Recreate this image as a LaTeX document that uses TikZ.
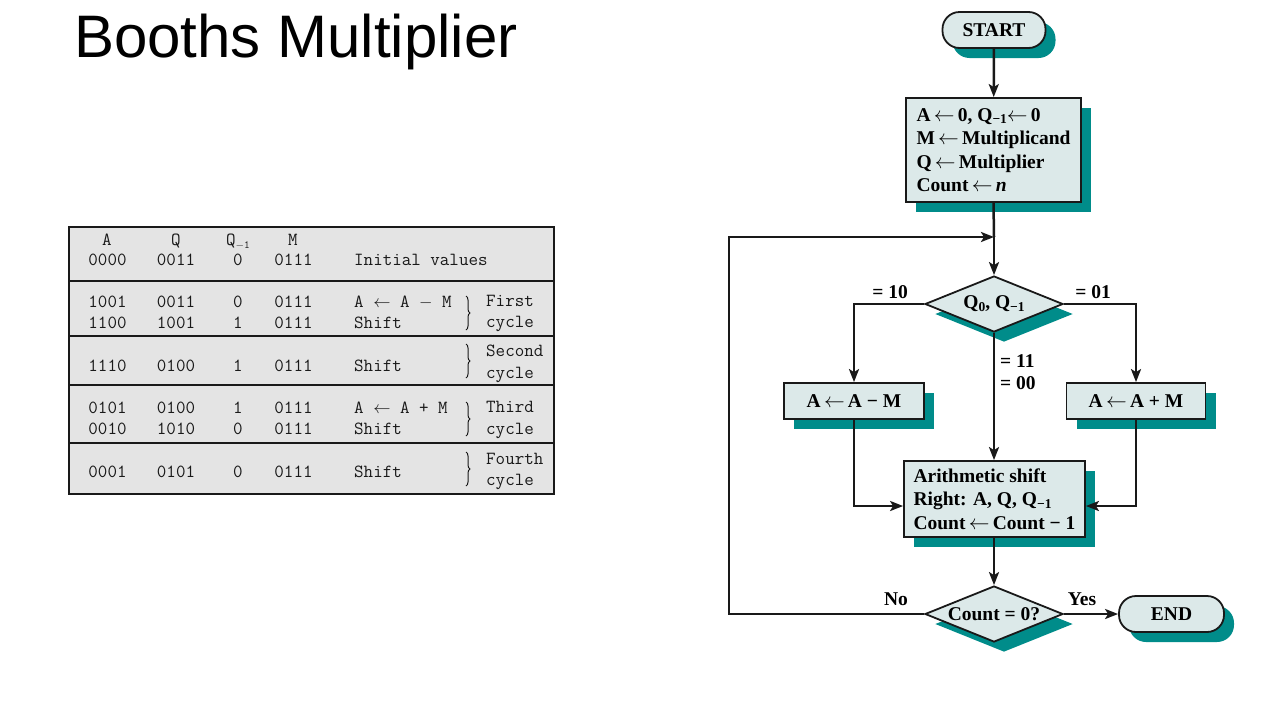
\documentclass[tikz,border=0pt]{standalone}
\usepackage{fontspec}
\setmainfont{Liberation Serif}
\newfontfamily\titlefont{Liberation Sans}
\usetikzlibrary{shapes.geometric,shadows,arrows.meta,decorations.pathreplacing}
\definecolor{boxfill}{RGB}{220,233,233}
\definecolor{shadowteal}{RGB}{0,140,138}
\definecolor{tablegray}{RGB}{228,228,228}
\definecolor{ink}{RGB}{25,25,25}
\newcommand{\mysub}[1]{\raisebox{-0.3ex}{\fontsize{13.5}{14}\selectfont #1}}
\newcommand{\la}{\ensuremath{\leftarrow}}
\tikzset{
  flowfont/.style={font=\bfseries\fontsize{19.5}{23.5}\selectfont},
  shad/.style={general shadow={fill=shadowteal, shadow xshift=10pt, shadow yshift=-10pt}},
  procbox/.style={flowfont, draw=ink, line width=1.8pt, fill=boxfill, shad, inner sep=0pt},
  textbox/.style={procbox, align=left, inner ysep=0pt},
  termbox/.style={procbox, rounded corners=17pt, minimum height=36pt},
  decbox/.style={procbox, diamond, minimum width=138pt, minimum height=56pt},
  conn/.style={draw=ink, line width=2.5pt, -{Stealth[length=13pt,width=10pt,inset=3pt]}},
  flowlbl/.style={flowfont, inner sep=0pt},
  mono/.style={font=\ttfamily\fontsize{18.5}{20}\selectfont, inner sep=0pt, text height=11pt, text depth=0pt, text=ink},
  tbrace/.style={draw=ink, line width=1pt, decorate, decoration={brace, amplitude=4pt}},
  tline/.style={draw=ink, line width=1.8pt}
}
\begin{document}
\begin{tikzpicture}[x=1pt,y=-1pt]
\useasboundingbox (0,0) rectangle (1271,718);

% title
\node[anchor=base west, inner sep=0pt, font=\titlefont\fontsize{60}{72}\selectfont] (title) at (74,57) {Booths Multiplier};

% table
\draw[tline, fill=tablegray] (69,227) rectangle (554,494);
\foreach \yy in {281,336,385,443} \draw[tline] (69,\yy) -- (554,\yy);

\node[mono] (hA) at (107,240) {A};
\node[mono] (hQ) at (176,240) {Q};
\node[mono] (hQm) at (238,240) {Q\raisebox{-0.4ex}{\fontsize{11}{12}\selectfont$-$1}};
\node[mono] (hM) at (293,240) {M};

\foreach \yy/\va/\vq/\vqm/\vm/\op [count=\i] in {
  260/0000/0011/0/0111/Initial values,
  302/1001/0011/0/0111/A \la{} A $-$ M,
  323/1100/1001/1/0111/Shift,
  366/1110/0100/1/0111/Shift,
  408/0101/0100/1/0111/A \la{} A + M,
  429/0010/1010/0/0111/Shift,
  472/0001/0101/0/0111/Shift}{
  \node[mono] (ra\i) at (107.5,\yy) {\va};
  \node[mono] (rq\i) at (176,\yy) {\vq};
  \node[mono] (rqm\i) at (238,\yy) {\vqm};
  \node[mono] (rm\i) at (293.5,\yy) {\vm};
  \node[mono, anchor=west] (rop\i) at (354,\yy) {\op};
}

\draw[tbrace] (466,296) -- (466,330);
\draw[tbrace] (466,344) -- (466,378);
\draw[tbrace] (466,402) -- (466,436);
\draw[tbrace] (466,452) -- (466,486);

\node[mono, anchor=west] (c1a) at (486,301) {First};
\node[mono, anchor=west] (c1b) at (486,322) {cycle};
\node[mono, anchor=west] (c2a) at (486,351) {Second};
\node[mono, anchor=west] (c2b) at (486,373) {cycle};
\node[mono, anchor=west] (c3a) at (486,407) {Third};
\node[mono, anchor=west] (c3b) at (486,429) {cycle};
\node[mono, anchor=west] (c4a) at (486,459) {Fourth};
\node[mono, anchor=west] (c4b) at (486,480) {cycle};

% flowchart
\node[termbox, minimum width=103pt] (start) at (994,30) {START};
\node[textbox, minimum width=175pt, minimum height=104pt] (init) at (993.5,150)
  {A\,\la\,0, Q\mysub{−1}\la\,0\\M\,\la\,Multiplicand\\Q\,\la\,Multiplier\\Count\,\la\,\textit{n}};
\node[decbox] (dec1) at (994,304) {\makebox[0pt]{Q\mysub{0}, Q\mysub{−1}}};
\node[procbox, minimum width=140pt, minimum height=36pt] (sub) at (854,401) {A\,\la\,A − M};
\node[procbox, minimum width=139pt, minimum height=36pt] (add) at (1136,401) {A\,\la\,A + M};
\node[textbox, minimum width=181pt, minimum height=76pt] (shift) at (994.5,499)
  {Arithmetic shift\\Right: A, Q, Q\mysub{−1}\\Count\,\la\,Count − 1};
\node[decbox] (dec2) at (994,614) {\makebox[0pt]{Count = 0?}};
\node[termbox, minimum width=105pt] (end) at (1171.5,614) {END};

\coordinate (join) at (994,237);
\coordinate (loopc) at (729,237);

\draw[conn] (start) -- (init);
\draw[draw=ink, line width=2.5pt] (init.south) -- (join);
\draw[conn] (join) -- (dec1.north);
\draw[conn] (dec1.west) -| (sub.north);
\draw[conn] (dec1.east) -| (add.north);
\draw[conn] (dec1.south) -- (dec1.south |- shift.north);
\draw[conn] (sub.south) |- ([yshift=-7pt]shift.west);
\draw[conn] (add.south) |- ([yshift=-7pt]shift.east);
\draw[conn] (shift.south -| dec2.north) -- (dec2.north);
\draw[conn] (dec2.east) -- (end.west);
\draw[conn] (dec2.west) -| (loopc) -- (join);

\node[flowlbl] (l10) at (890,292) {= 10};
\node[flowlbl] (l01) at (1093,292) {= 01};
\node[flowlbl, anchor=west] (l11) at (1000,361) {= 11};
\node[flowlbl, anchor=west] (l00) at (1000,383) {= 00};
\node[flowlbl] (lno) at (896,599) {No};
\node[flowlbl] (lyes) at (1082,599) {Yes};
\end{tikzpicture}
\end{document}
